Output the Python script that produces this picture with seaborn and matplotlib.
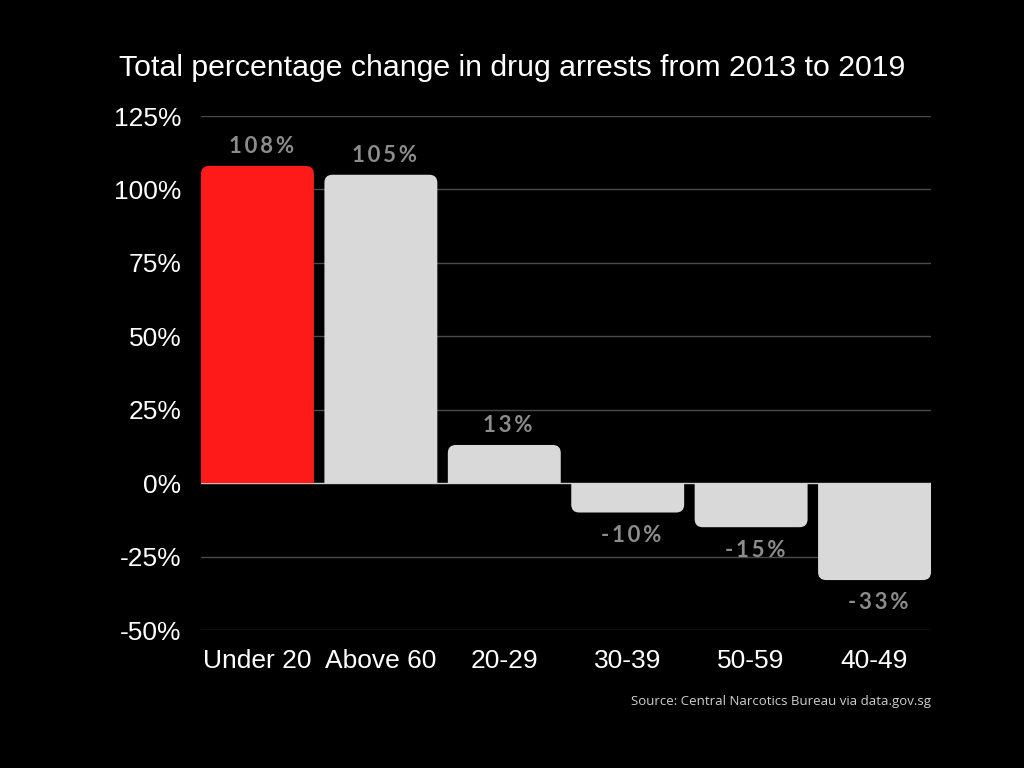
import matplotlib
matplotlib.use("Agg")
import matplotlib.pyplot as plt
import seaborn as sns
import pandas as pd
from matplotlib.path import Path
from matplotlib.patches import PathPatch


# -----------------------------
# Data
# -----------------------------
age_groups = ["Under 20", "Above 60", "20-29", "30-39", "50-59", "40-49"]
pct_change = [108, 105, 13, -10, -15, -33]
bar_colors = ["#ff1a1a", "#d9d9d9", "#d9d9d9", "#d9d9d9", "#d9d9d9", "#d9d9d9"]
y_ticks = [-50, -25, 0, 25, 50, 75, 100, 125]

df = pd.DataFrame({"group": age_groups, "change": pct_change})


def rounded_bar(x0, w, val, rx, ry):
    # bar from zero to val, only the outer end gets round corners
    x1 = x0 + w
    s = 1 if val >= 0 else -1
    end = val
    verts = [
        (x0, 0), (x0, end - s * ry),
        (x0, end), (x0 + rx, end),
        (x1 - rx, end),
        (x1, end), (x1, end - s * ry),
        (x1, 0), (x0, 0),
    ]
    codes = [
        Path.MOVETO, Path.LINETO,
        Path.CURVE3, Path.CURVE3,
        Path.LINETO,
        Path.CURVE3, Path.CURVE3,
        Path.LINETO, Path.CLOSEPOLY,
    ]
    return Path(verts, codes)


# -----------------------------
# Figure
# -----------------------------
sns.set_style("dark", {"axes.facecolor": "black", "figure.facecolor": "black"})
plt.rcParams["font.family"] = ["Liberation Sans", "DejaVu Sans"]

fig = plt.figure(figsize=(10.24, 7.68), dpi=100, facecolor="black")
ax = fig.add_axes([201 / 1024, 1 - 630 / 768, 730 / 1024, 514 / 768])
ax.set_facecolor("black")

sns.barplot(data=df, x="group", y="change", hue="group", palette=bar_colors,
            width=0.915, legend=False, ax=ax, saturation=1)

ax.set_xlim(-0.4575, 5.4575)
ax.set_ylim(-50, 125)

# swap the plain bars for bars rounded at the outer end
for patch, val, col in zip(list(ax.patches), pct_change, bar_colors):
    x0 = patch.get_x()
    w = patch.get_width()
    patch.remove()
    ax.add_patch(PathPatch(rounded_bar(x0, w, val, 0.065, 2.73),
                           facecolor=col, edgecolor="none", zorder=3))

# value labels, letter spaced
for i, val in enumerate(pct_change):
    label = "\u2009".join(f"{val}%")
    y = val + 6.5 if val >= 0 else val - 7.8
    ax.text(i + 0.03, y, label, ha="center", va="center",
            color="#8c8c8c", fontsize=16, fontweight="bold",
            family=["Lato", "DejaVu Sans"], zorder=4)

# grid
for t in y_ticks:
    ax.axhline(t, color="#d0d0d0" if t == 0 else "#4a4a4a",
               linewidth=1, zorder=2 if t == 0 else 1)
ax.grid(False)

ax.set_yticks(y_ticks)
ax.set_yticklabels([f"{t}%" for t in y_ticks])
ax.tick_params(axis="both", colors="white", labelsize=19, length=0)
ax.tick_params(axis="y", pad=14)
ax.tick_params(axis="x", pad=14)
for lbl in ax.get_xticklabels() + ax.get_yticklabels():
    lbl.set_color("white")
ax.set_xlabel("")
ax.set_ylabel("")
for s in ax.spines.values():
    s.set_visible(False)

fig.text(512 / 1024, 1 - 68 / 768,
         "Total percentage change in drug arrests from 2013 to 2019",
         ha="center", va="center", color="white", fontsize=21.8)
fig.text(931 / 1024, 1 - 702 / 768,
         "Source: Central Narcotics Bureau via data.gov.sg",
         ha="right", va="center", color="#d0d0d0", fontsize=9.5,
         family=["Open Sans", "DejaVu Sans"])

fig.savefig("out.png", dpi=100, facecolor="black")
